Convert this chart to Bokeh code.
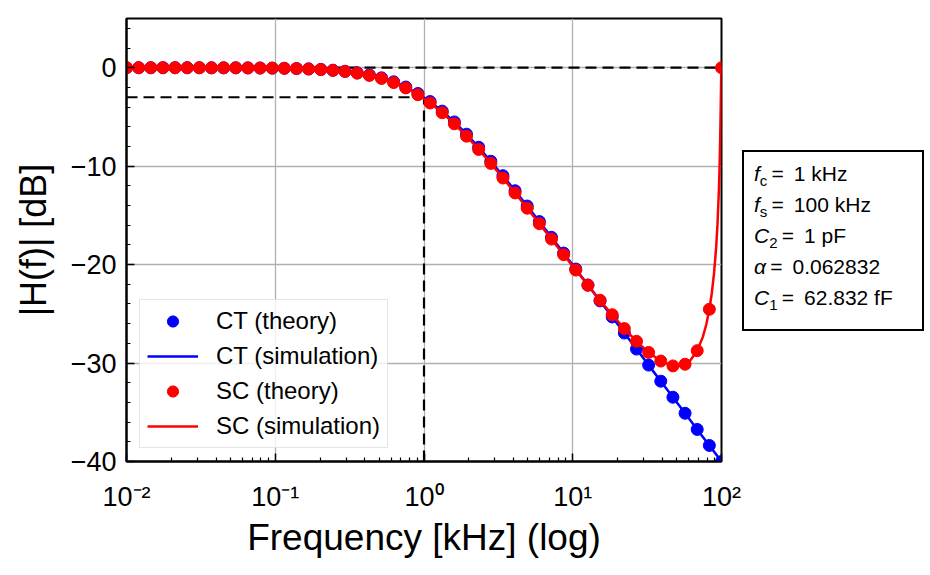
from bokeh.plotting import figure
from bokeh.models import (Range1d, FixedTicker, CustomJSTickFormatter,
                          Legend, LegendItem, Div, ColumnDataSource)
from bokeh.layouts import row
from bokeh.embed import file_html
from bokeh.resources import INLINE

FONT = "Liberation Sans"

# ---------------- data ----------------
freq_khz = [0.01, 0.01207, 0.01456, 0.01758, 0.02121, 0.0256, 0.03089, 0.03728,
            0.04498, 0.05429, 0.06551, 0.07906, 0.09541, 0.1151, 0.139, 0.1677,
            0.2024, 0.2442, 0.2947, 0.3556, 0.4292, 0.5179, 0.6251, 0.7543,
            0.9103, 1.099, 1.326, 1.6, 1.931, 2.33, 2.812, 3.393, 4.095, 4.942,
            5.964, 7.197, 8.685, 10.48, 12.65, 15.26, 18.42, 22.23, 26.83, 32.37,
            39.07, 47.15, 56.9, 68.66, 82.86, 100.0]

ct_theory_db = [0.00, 0.00, 0.00, 0.00, 0.00, 0.00, 0.00, -0.01, -0.01, -0.01,
                -0.02, -0.03, -0.04, -0.06, -0.08, -0.12, -0.17, -0.25, -0.36, -0.52,
                -0.73, -1.03, -1.43, -1.96, -2.62, -3.44, -4.41, -5.51, -6.75, -8.08,
                -9.50, -10.97, -12.50, -14.05, -15.63, -17.23, -18.83, -20.45, -22.07, -23.69,
                -25.32, -26.95, -28.58, -30.21, -31.84, -33.47, -35.10, -36.74, -38.37, -40.00]

ct_sim_db = [0.00, 0.00, 0.00, 0.00, 0.00, 0.00, 0.00, -0.01, -0.01, -0.01,
             -0.02, -0.03, -0.04, -0.06, -0.08, -0.12, -0.17, -0.25, -0.36, -0.52,
             -0.73, -1.03, -1.43, -1.96, -2.62, -3.44, -4.41, -5.51, -6.75, -8.08,
             -9.50, -10.97, -12.50, -14.05, -15.63, -17.23, -18.83, -20.45, -22.07, -23.69,
             -25.32, -26.95, -28.58, -30.21, -31.84, -33.47, -35.10, -36.74, -38.37, -40.00]

sc_theory_db = [0.00, 0.00, 0.00, 0.00, 0.00, 0.00, 0.00, -0.01, -0.01, -0.01,
                -0.02, -0.03, -0.04, -0.06, -0.09, -0.13, -0.19, -0.27, -0.38, -0.55,
                -0.78, -1.09, -1.51, -2.05, -2.74, -3.58, -4.57, -5.70, -6.95, -8.30,
                -9.72, -11.20, -12.72, -14.27, -15.84, -17.41, -18.99, -20.55, -22.10, -23.62,
                -25.09, -26.50, -27.79, -28.92, -29.80, -30.29, -30.12, -28.74, -24.54, 0.00]

# extra simulation samples (dense part of the SC curve)
sc_sim_extra_khz = [50.0, 62.0, 75.0, 79.0, 86.0, 89.0, 92.0, 94.0, 96.0, 97.0,
                    98.0, 98.5, 99.0, 99.5, 99.8]
sc_sim_extra_db = [-30.33, -29.69, -27.32, -26.08, -22.93, -20.95, -18.30, -15.89,
                   -12.53, -10.23, -7.20, -5.30, -3.14, -1.02, -0.18]

# reference (dashed) lines
ref_flat_khz = [0.01, 100.0]
ref_flat_db = [0.0, 0.0]
ref_3db_khz = [0.01, 1.0]
ref_3db_db = [-3.0, -3.0]
ref_fc_khz = [1.0, 1.0]
ref_fc_db = [-40.0, -3.0]

# ticks / labels
x_decades = [0.01, 0.1, 1.0, 10.0, 100.0]
x_tick_labels = ["10\u207b\u00b2", "10\u207b\u00b9", "10\u2070", "10\u00b9", "10\u00b2"]
y_major = [-40, -30, -20, -10, 0]
y_minor = list(range(-40, 5, 2))

x_title = "Frequency [kHz] (log)"
y_title = "|H(f)| [dB]"
legend_labels = ["CT (theory)", "CT (simulation)", "SC (theory)", "SC (simulation)"]

box_symbols = [("f", "c"), ("f", "s"), ("C", "2"), ("\u03b1", ""), ("C", "1")]
box_values = ["1 kHz", "100 kHz", "1 pF", "0.062832", "62.832 fF"]

# ---------------- figure ----------------
p = figure(x_axis_type="log", x_range=Range1d(0.01, 100), y_range=Range1d(-40, 5),
           frame_width=595, frame_height=443,
           min_border_left=126, min_border_right=21, min_border_top=18, min_border_bottom=113,
           toolbar_location=None, output_backend="svg",
           background_fill_color="white", border_fill_color="white",
           outline_line_color="black", outline_line_width=2)

xminor = [m * 10.0 ** k for k in range(-2, 2) for m in range(2, 10)]
p.xaxis.ticker = FixedTicker(ticks=x_decades, minor_ticks=xminor)
lab_js = "[" + ",".join('"%s"' % s for s in x_tick_labels) + "]"
p.xaxis.formatter = CustomJSTickFormatter(
    code="const labs = " + lab_js + "; const e = Math.round(Math.log10(tick)); "
         "return labs[e + 2];")
p.xaxis.major_label_text_font = FONT
p.xaxis.major_label_text_font_size = "27px"
p.xaxis.major_label_text_color = "black"
p.xaxis.major_label_standoff = 20
p.xaxis.axis_label = x_title
p.xaxis.axis_label_text_font = FONT
p.xaxis.axis_label_text_font_size = "37px"
p.xaxis.axis_label_text_font_style = "normal"
p.xaxis.axis_label_text_color = "black"
p.xaxis.axis_label_standoff = 2

p.yaxis.ticker = FixedTicker(ticks=y_major, minor_ticks=y_minor)
p.yaxis.formatter = CustomJSTickFormatter(
    code="return tick < 0 ? '\\u2212' + Math.abs(tick) : String(tick);")
p.yaxis.major_label_text_font = FONT
p.yaxis.major_label_text_font_size = "27px"
p.yaxis.major_label_text_color = "black"
p.yaxis.major_label_standoff = 10
p.yaxis.axis_label = y_title
p.yaxis.axis_label_text_font = FONT
p.yaxis.axis_label_text_font_size = "36px"
p.yaxis.axis_label_text_font_style = "normal"
p.yaxis.axis_label_text_color = "black"
p.yaxis.axis_label_standoff = 14

p.xgrid.ticker = FixedTicker(ticks=x_decades)
p.ygrid.ticker = FixedTicker(ticks=y_major)

for ax in (p.xaxis, p.yaxis):
    ax.axis_line_width = 2
    ax.axis_line_color = "black"
    ax.major_tick_in = 8
    ax.major_tick_out = 0
    ax.minor_tick_in = 4
    ax.minor_tick_out = 0
    ax.major_tick_line_width = 1.5
    ax.minor_tick_line_width = 1.2
    ax.major_tick_line_color = "black"
    ax.minor_tick_line_color = "black"

p.grid.grid_line_color = "#b0b0b0"
p.grid.grid_line_width = 1.3

# dashed reference lines
for xs, ys in ((ref_flat_khz, ref_flat_db), (ref_3db_khz, ref_3db_db), (ref_fc_khz, ref_fc_db)):
    p.line(xs, ys, line_color="black", line_width=2.2, line_dash="11 6")

# series
r_ct_pts = p.scatter(freq_khz, ct_theory_db, size=12, fill_color="#0000ff", line_color="#0000ff")
r_ct_line = p.line(freq_khz, ct_sim_db, line_color="#0000ff", line_width=2.5)
r_sc_pts = p.scatter(freq_khz, sc_theory_db, size=12, fill_color="#ff0000", line_color="#ff0000")

sc_pairs = sorted(list(zip(freq_khz, sc_theory_db)) + list(zip(sc_sim_extra_khz, sc_sim_extra_db)))
sc_src = ColumnDataSource(dict(f=[a for a, b in sc_pairs], db=[b for a, b in sc_pairs]))
r_sc_line = p.line("f", "db", source=sc_src, line_color="#ff0000", line_width=2.5)

legend = Legend(items=[LegendItem(label=lab, renderers=[r]) for lab, r in
                       zip(legend_labels, [r_ct_pts, r_ct_line, r_sc_pts, r_sc_line])],
                location=(13, 13), margin=0, padding=7, spacing=7,
                glyph_width=51, glyph_height=28, label_height=28, label_standoff=18,
                label_text_font=FONT, label_text_font_size="24px", label_text_color="black",
                border_line_color="#cccccc", border_line_width=1.5,
                background_fill_color="white", background_fill_alpha=0.8)
p.add_layout(legend)

# parameter box
def _line(sym, sub, val):
    s = f"<i>{sym}</i>"
    if sub:
        s += (f'<span style="font-size:15px;line-height:0;position:relative;top:5px;">'
              f'{sub}</span>')
    return s + f"&thinsp;= &thinsp;{val}"

html = ('<div style="box-sizing:border-box;width:182px;height:181px;border:2px solid #000;'
        'padding:6px 0 0 10px;font-family:\'Liberation Sans\';font-size:21px;line-height:31px;'
        'color:#000;background:#fff;white-space:nowrap;">'
        + "<br>".join(_line(a, b, v) for (a, b), v in zip(box_symbols, box_values))
        + "</div>")
box = Div(text=html, width=182, height=181, margin=(150, 0, 0, 0))

layout = row(p, box)
with open("out.html", "w", encoding="utf-8") as fh:
    fh.write(file_html(layout, INLINE))
